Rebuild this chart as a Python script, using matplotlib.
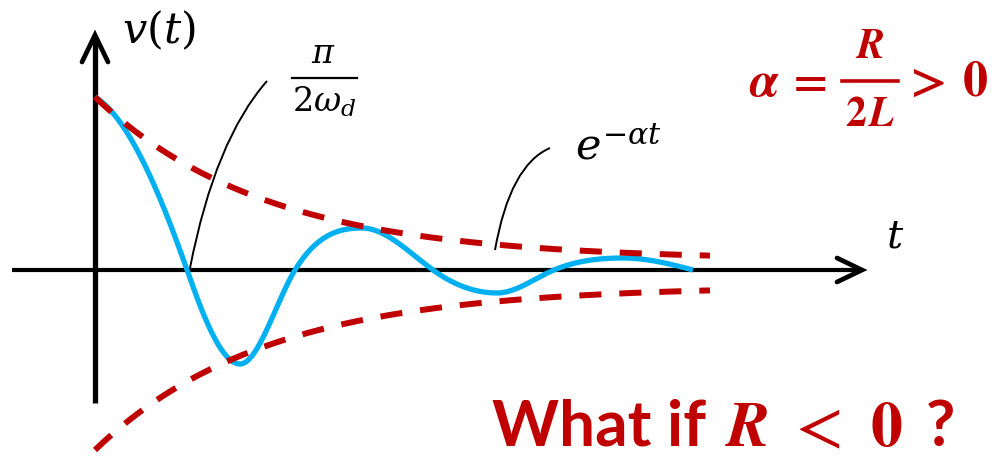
import numpy as np
import matplotlib
matplotlib.use("Agg")
import matplotlib.pyplot as plt
from matplotlib.path import Path
from matplotlib.patches import PathPatch

plt.rcParams["mathtext.fontset"] = "dejavuserif"

# Key points of the damped response v(t): start, extrema and zero crossings
resp_t = [0, 92, 145, 200, 267, 338, 402, 459, 528, 598]
resp_v = [173, 0, -94, 0, 42, 0, -23, 0, 12, 0]
resp_start_slope = -0.6

# Exponential envelope e^{-alpha t}: amplitude, floor offset and time constant
env_tau = 170.0
env_upper_amp, env_upper_floor = 163.0, 10.0
env_lower_amp, env_lower_floor = 164.0, 16.0
env_t_end = 615.0

BLUE = "#00B0F0"
RED = "#C00000"

fig = plt.figure(figsize=(10, 4.59), dpi=100)
ax = fig.add_axes([0, 0, 1, 1])
ax.set_xlim(-95, 905)
ax.set_ylim(-189, 270)
ax.axis("off")

# --- axes with open chevron arrowheads ---
x_lo, x_hi = -83, 767
y_lo, y_hi = -133, 235
ax.plot([x_lo, x_hi - 2], [0, 0], color="black", lw=3.0,
        solid_capstyle="butt", zorder=1)
ax.plot([0, 0], [y_lo, y_hi - 2], color="black", lw=3.8,
        solid_capstyle="butt", zorder=1)
head_kw = dict(color="black", lw=3.4, solid_joinstyle="miter",
               solid_capstyle="round", zorder=1)
ax.plot([x_hi - 25, x_hi, x_hi - 25], [12, 0, -12], **head_kw)
ax.plot([-13, 0, 13], [y_hi - 27, y_hi, y_hi - 27], **head_kw)

# --- oscillating response: cubic Hermite through the key points ---
# slope is zero at the extrema; at each zero crossing it is the geometric
# mean of the quarter-wave slopes on either side
n = len(resp_t)
slopes = np.zeros(n)
slopes[0] = resp_start_slope
for i in range(1, n):
    if resp_v[i] != 0:
        continue
    left = abs(resp_v[i - 1]) * np.pi / 2 / (resp_t[i] - resp_t[i - 1])
    if i + 1 < n:
        right = abs(resp_v[i + 1]) * np.pi / 2 / (resp_t[i + 1] - resp_t[i])
        mag = np.sqrt(left * right)
    else:
        mag = left
    slopes[i] = -np.sign(resp_v[i - 1]) * mag

ts, vs = [], []
for i in range(n - 1):
    t0, t1 = resp_t[i], resp_t[i + 1]
    h = t1 - t0
    s = np.linspace(0, 1, 80)
    h00 = 2 * s**3 - 3 * s**2 + 1
    h10 = s**3 - 2 * s**2 + s
    h01 = -2 * s**3 + 3 * s**2
    h11 = s**3 - s**2
    seg = (h00 * resp_v[i] + h10 * h * slopes[i]
           + h01 * resp_v[i + 1] + h11 * h * slopes[i + 1])
    ts.append(t0 + h * s)
    vs.append(seg)
ts = np.concatenate(ts)
vs = np.concatenate(vs)
ax.plot(ts, vs, color=BLUE, lw=3.8, solid_capstyle="butt", zorder=2)

# --- dashed envelopes ---
te = np.linspace(0, env_t_end, 300)
upper = env_upper_floor + env_upper_amp * np.exp(-te / env_tau)
lower = -(env_lower_floor + env_lower_amp * np.exp(-te / env_tau))
dash_kw = dict(color=RED, lw=4.3, dashes=(3.7, 3.0), dash_capstyle="butt", zorder=3)
ax.plot(te, upper, **dash_kw)
ax.plot(te, lower, **dash_kw)

# --- leader lines ---
def leader(p0, p1, p2):
    path = Path([p0, p1, p2], [Path.MOVETO, Path.CURVE3, Path.CURVE3])
    ax.add_patch(PathPatch(path, fc="none", ec="black", lw=1.4, zorder=4))

leader((95, 2), (120, 130), (172, 189))
leader((400, 20), (415, 105), (455, 122))

# --- labels ---
ax.text(27, 227, r"$v(t)$", fontsize=31, ha="left", va="baseline")
ax.text(791, 22, r"$t$", fontsize=29, ha="left", va="baseline")

ax.text(228, 207, r"$\pi$", fontsize=24, ha="center", va="baseline")
ax.plot([197, 262], [192, 192], color="black", lw=1.6)
ax.text(197, 158, r"$2\omega_d$", fontsize=24, ha="left", va="baseline")

ax.text(480, 110, r"$e^{-\alpha t}$", fontsize=31, ha="left", va="baseline")

# red condition: alpha = R / 2L > 0
bi = dict(family="STIXGeneral", style="italic", weight="bold", color=RED)
bu = dict(family="STIXGeneral", weight="bold", color=RED)
ax.text(654, 174, "α", fontsize=36, ha="left", va="baseline", **bi)
ax.text(716, 174, "=", fontsize=34, ha="center", va="baseline", **bu)
ax.plot([747, 803], [189, 189], color=RED, lw=2.6)
ax.text(775, 212, "R", fontsize=30, ha="center", va="baseline", **bi)
ax.text(771, 144, "2", fontsize=30, ha="right", va="baseline", **bu)
ax.text(774, 144, "L", fontsize=30, ha="left", va="baseline", **bi)
ax.text(834, 174, ">", fontsize=36, ha="center", va="baseline", **bu)
ax.text(880, 174, "0", fontsize=36, ha="center", va="baseline", **bu)

# bottom question
base = -176
ax.text(397, base, "What if", fontsize=46, family="Lato", weight="bold",
        color=RED, ha="left", va="baseline")
ax.text(632, base, "R", fontsize=46, ha="left", va="baseline", **bi)
ax.text(724, base, "<", fontsize=50, family="STIXGeneral", color=RED,
        ha="center", va="baseline")
ax.text(791, base, "0", fontsize=46, ha="center", va="baseline", **bu)
ax.text(845, base, "?", fontsize=46, family="Lato", weight="bold",
        color=RED, ha="center", va="baseline")

fig.savefig("out.png", dpi=100)
